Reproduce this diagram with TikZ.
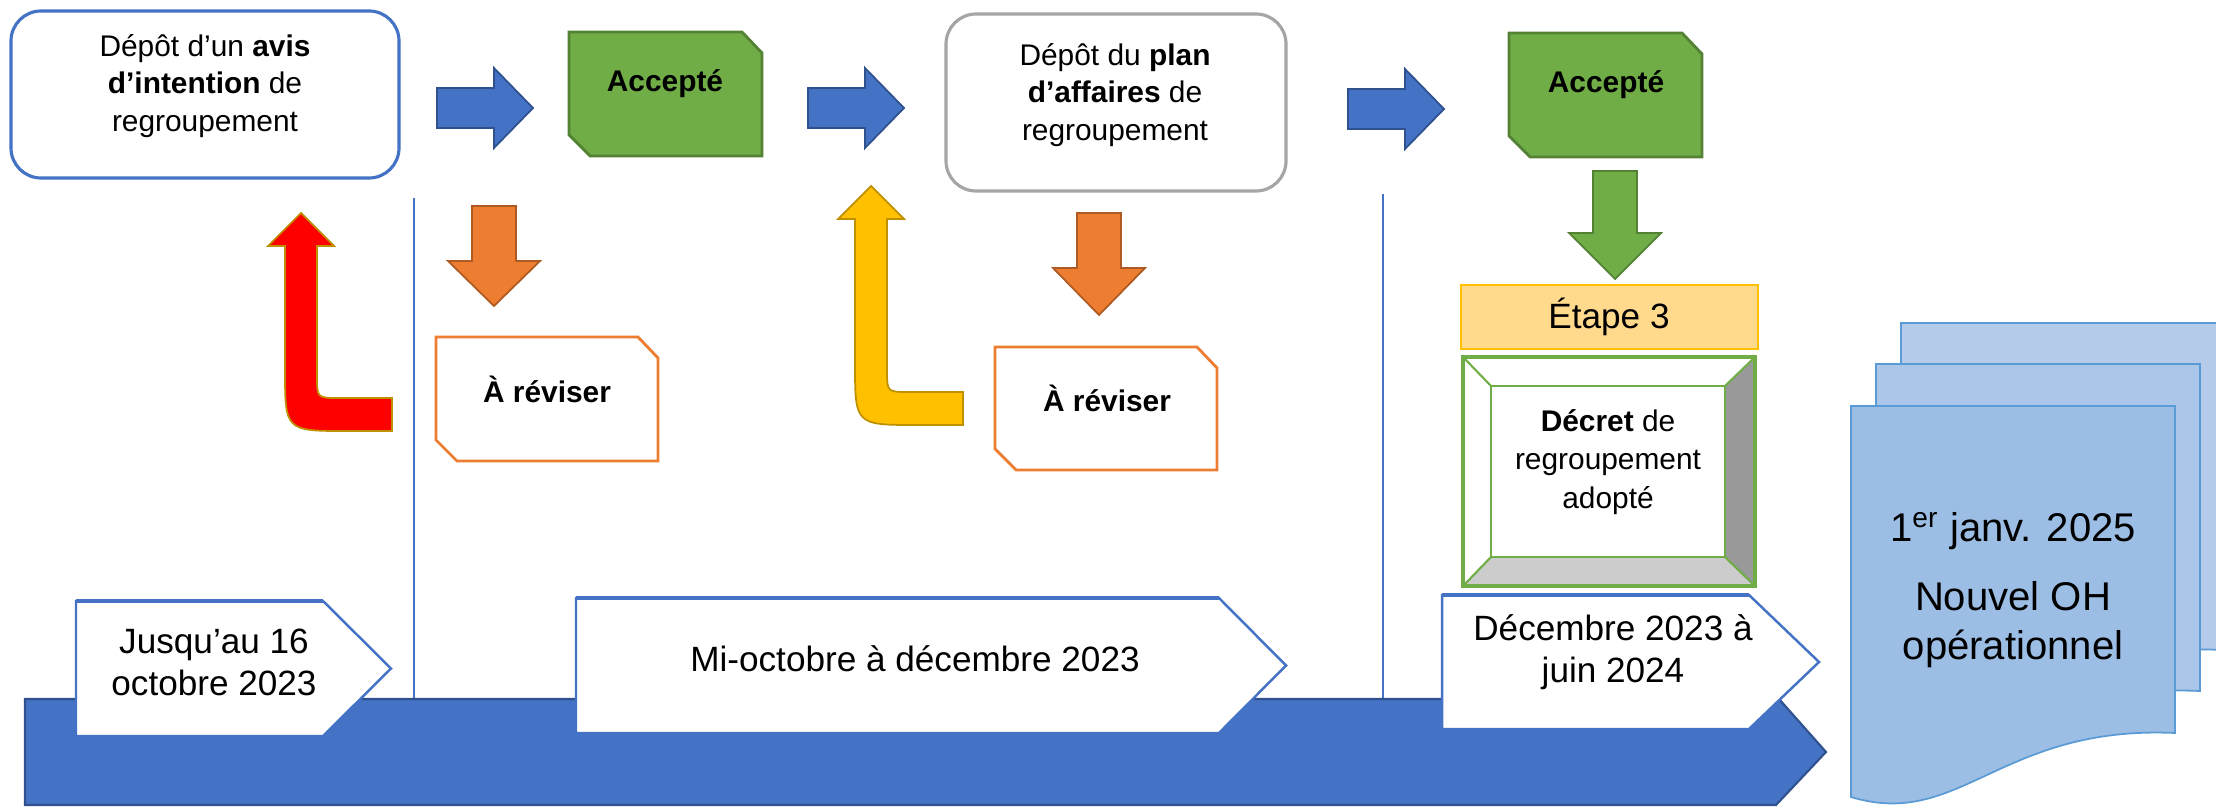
\documentclass[tikz,border=0pt]{standalone}
\usepackage{fontspec}
\setmainfont{Liberation Sans}
\usepackage{tikz}

\definecolor{OffBlue}{RGB}{68,114,196}
\definecolor{DeepBlue}{RGB}{47,82,143}
\definecolor{LeafGreen}{RGB}{112,173,71}
\definecolor{MossGreen}{RGB}{84,130,53}
\definecolor{Pumpkin}{RGB}{237,125,49}
\definecolor{DeepPumpkin}{RGB}{174,90,33}
\definecolor{Amber}{RGB}{255,192,0}
\definecolor{DeepAmber}{RGB}{191,144,0}
\definecolor{Sand}{RGB}{255,217,140}
\definecolor{Silver}{RGB}{165,165,165}
\definecolor{BevelDark}{RGB}{153,153,153}
\definecolor{BevelLight}{RGB}{204,204,204}
\definecolor{PageLine}{RGB}{91,155,213}
\definecolor{PageFront}{RGB}{157,190,228}
\definecolor{PageMid}{RGB}{170,198,232}
\definecolor{PageBack}{RGB}{180,204,234}

\begin{document}
\begin{tikzpicture}[x=0.1mm,y=-0.1mm,
		LabelStyle/.style={align=center,inner sep=0pt,font=\fontsize{8.5}{10.7}\selectfont},
		DateStyle/.style={align=center,inner sep=0pt,font=\fontsize{10}{12}\selectfont},
		BlueArrow/.style={fill=OffBlue,draw=DeepBlue,line width=0.5pt},
		OrangeArrow/.style={fill=Pumpkin,draw=DeepPumpkin,line width=0.5pt},
		GreenArrow/.style={fill=LeafGreen,draw=MossGreen,line width=0.5pt},
		BentArrow/.style={draw=DeepAmber,line width=0.5pt},
		AccStyle/.style={fill=LeafGreen,draw=MossGreen,line width=0.8pt},
		RevStyle/.style={fill=white,draw=Pumpkin,line width=0.8pt},
		ChevronStyle/.style={fill=white,draw=OffBlue,line width=0.7pt},
		PageStyle/.style={draw=PageLine,line width=0.5pt},
		BevelLine/.style={draw=LeafGreen,line width=0.6pt}]
	\useasboundingbox (0,0) rectangle (2216,811);

	% dossiers deposes
	\draw[OffBlue,line width=0.9pt,rounded corners=3mm] (11,11) rectangle (399,178);
	\draw[Silver,line width=0.9pt,rounded corners=3mm] (946,14) rectangle (1286,191);

	% boites coupees (accepte / a reviser)
	\foreach \l/\t/\r/\b/\st in {569/32/762/156/AccStyle,1509/33/1702/157/AccStyle,
		436/337/658/461/RevStyle,995/347/1217/470/RevStyle}{
		\draw[\st] (\l,\t) -- (\r-20,\t) -- (\r,\t+21) -- (\r,\b) -- (\l+21,\b) -- (\l,\b-21) -- cycle;
	}

	% fleches pleines
	\foreach \x/\y/\ang/\len/\hd/\sh/\hw/\st in {
		437/108/0/96/39/20/40/BlueArrow,
		808/108/0/96/39/20/40/BlueArrow,
		1348/109/0/96/39/20/40/BlueArrow,
		494/206/-90/100/45/22/46/OrangeArrow,
		1099/213/-90/102/47/22/46/OrangeArrow,
		1615/171/-90/108/46/22/46/GreenArrow}{
		\begin{scope}[shift={(\x,\y)},rotate=\ang]
			\draw[\st] (0,-\sh) -- (\len-\hd,-\sh) -- (\len-\hd,-\hw) -- (\len,0)
				-- (\len-\hd,\hw) -- (\len-\hd,\sh) -- (0,\sh) -- cycle;
		\end{scope}
	}

	% retours
	\foreach \x/\t/\b/\r/\c in {301/213/431/392/red,871/186/425/963/Amber}{
		\draw[BentArrow,fill=\c] (\r,\b-33) -- (\x+38,\b-33) .. controls (\x+16,\b-33) .. (\x+16,\b-55)
			-- (\x+16,\t+33) -- (\x+33,\t+33) -- (\x,\t) -- (\x-33,\t+33) -- (\x-16,\t+33)
			-- (\x-16,\b-62) .. controls (\x-16,\b) .. (\x+46,\b) -- (\r,\b) -- cycle;
	}

	% etape 3 et decret
	\draw[fill=Sand,draw=Amber,line width=0.6pt] (1461,285) rectangle (1758,349);
	\fill[BevelDark] (1755,357) -- (1755,586) -- (1725,557) -- (1725,386) -- cycle;
	\fill[BevelLight] (1463,586) -- (1755,586) -- (1725,557) -- (1491,557) -- cycle;
	\draw[BevelLine] (1463,357) -- (1491,386) (1755,357) -- (1725,386)
		(1463,586) -- (1491,557) (1755,586) -- (1725,557);
	\draw[BevelLine] (1491,386) rectangle (1725,557);
	\draw[BevelLine,line width=1pt] (1463,357) rectangle (1755,586);

	% ligne du temps
	\foreach \x/\y in {414/198,1383/194}
		\draw[OffBlue,line width=0.6pt] (\x,\y) -- (\x,699);
	\draw[fill=OffBlue,draw=DeepBlue,line width=0.6pt] (25,699) -- (1779,699) -- (1826,752) -- (1776,805) -- (25,805) -- cycle;
	\foreach \l/\t/\r/\tip/\b in {76/601/323/391/736,576/598/1219/1286/733,1442/595/1749/1819/729}{
		\draw[ChevronStyle] (\l,\t) -- (\r,\t) -- (\tip,{(\t+\b)/2}) -- (\r,\b) -- (\l,\b) -- cycle;
		\draw[OffBlue,line width=1.3pt] (\l,\t) -- (\r,\t);
	}

	% pile de documents
	\foreach \dx/\dy/\c in {50/83/PageBack,25/42/PageMid,0/0/PageFront}{
		\begin{scope}[shift={(1851+\dx,406-\dy)}]
			\draw[PageStyle,fill=\c] (0,0) -- (324,0) -- (324,327)
				.. controls (149,319) and (109,424) .. (0,391) -- cycle;
		\end{scope}
	}

	% textes
	\node[LabelStyle] (avis) at (205,86) {Dépôt d’un \textbf{avis}\\\textbf{d’intention} de\\regroupement};
	\node[LabelStyle] (plan) at (1115,95) {Dépôt du \textbf{plan}\\\textbf{d’affaires} de\\regroupement};
	\node[LabelStyle,font=\fontsize{8.5}{10.7}\selectfont\bfseries] (acc1) at (665,84) {Accepté};
	\node[LabelStyle,font=\fontsize{8.5}{10.7}\selectfont\bfseries] (acc2) at (1606,85) {Accepté};
	\node[LabelStyle,font=\fontsize{8.5}{10.7}\selectfont\bfseries] (rev1) at (547,389) {À réviser};
	\node[LabelStyle,font=\fontsize{8.5}{10.7}\selectfont\bfseries] (rev2) at (1107,398) {À réviser};
	\node[DateStyle] (etape) at (1609,317) {Étape 3};
	\node[LabelStyle,font=\fontsize{8.5}{11}\selectfont] (decret) at (1608,462) {\textbf{Décret} de\\regroupement\\adopté};
	\node[DateStyle] (jusq) at (214,662) {Jusqu’au 16\\octobre 2023};
	\node[DateStyle] (mioct) at (915,659) {Mi-octobre à décembre 2023};
	\node[DateStyle] (decjuin) at (1613,652) {Décembre 2023 à\\juin 2024};
	\node[DateStyle,font=\fontsize{11.4}{13.7}\selectfont] (nouveloh) at (2013,590)
		{1\textsuperscript{er} janv. 2025\\[6pt]Nouvel OH\\opérationnel};
\end{tikzpicture}
\end{document}
